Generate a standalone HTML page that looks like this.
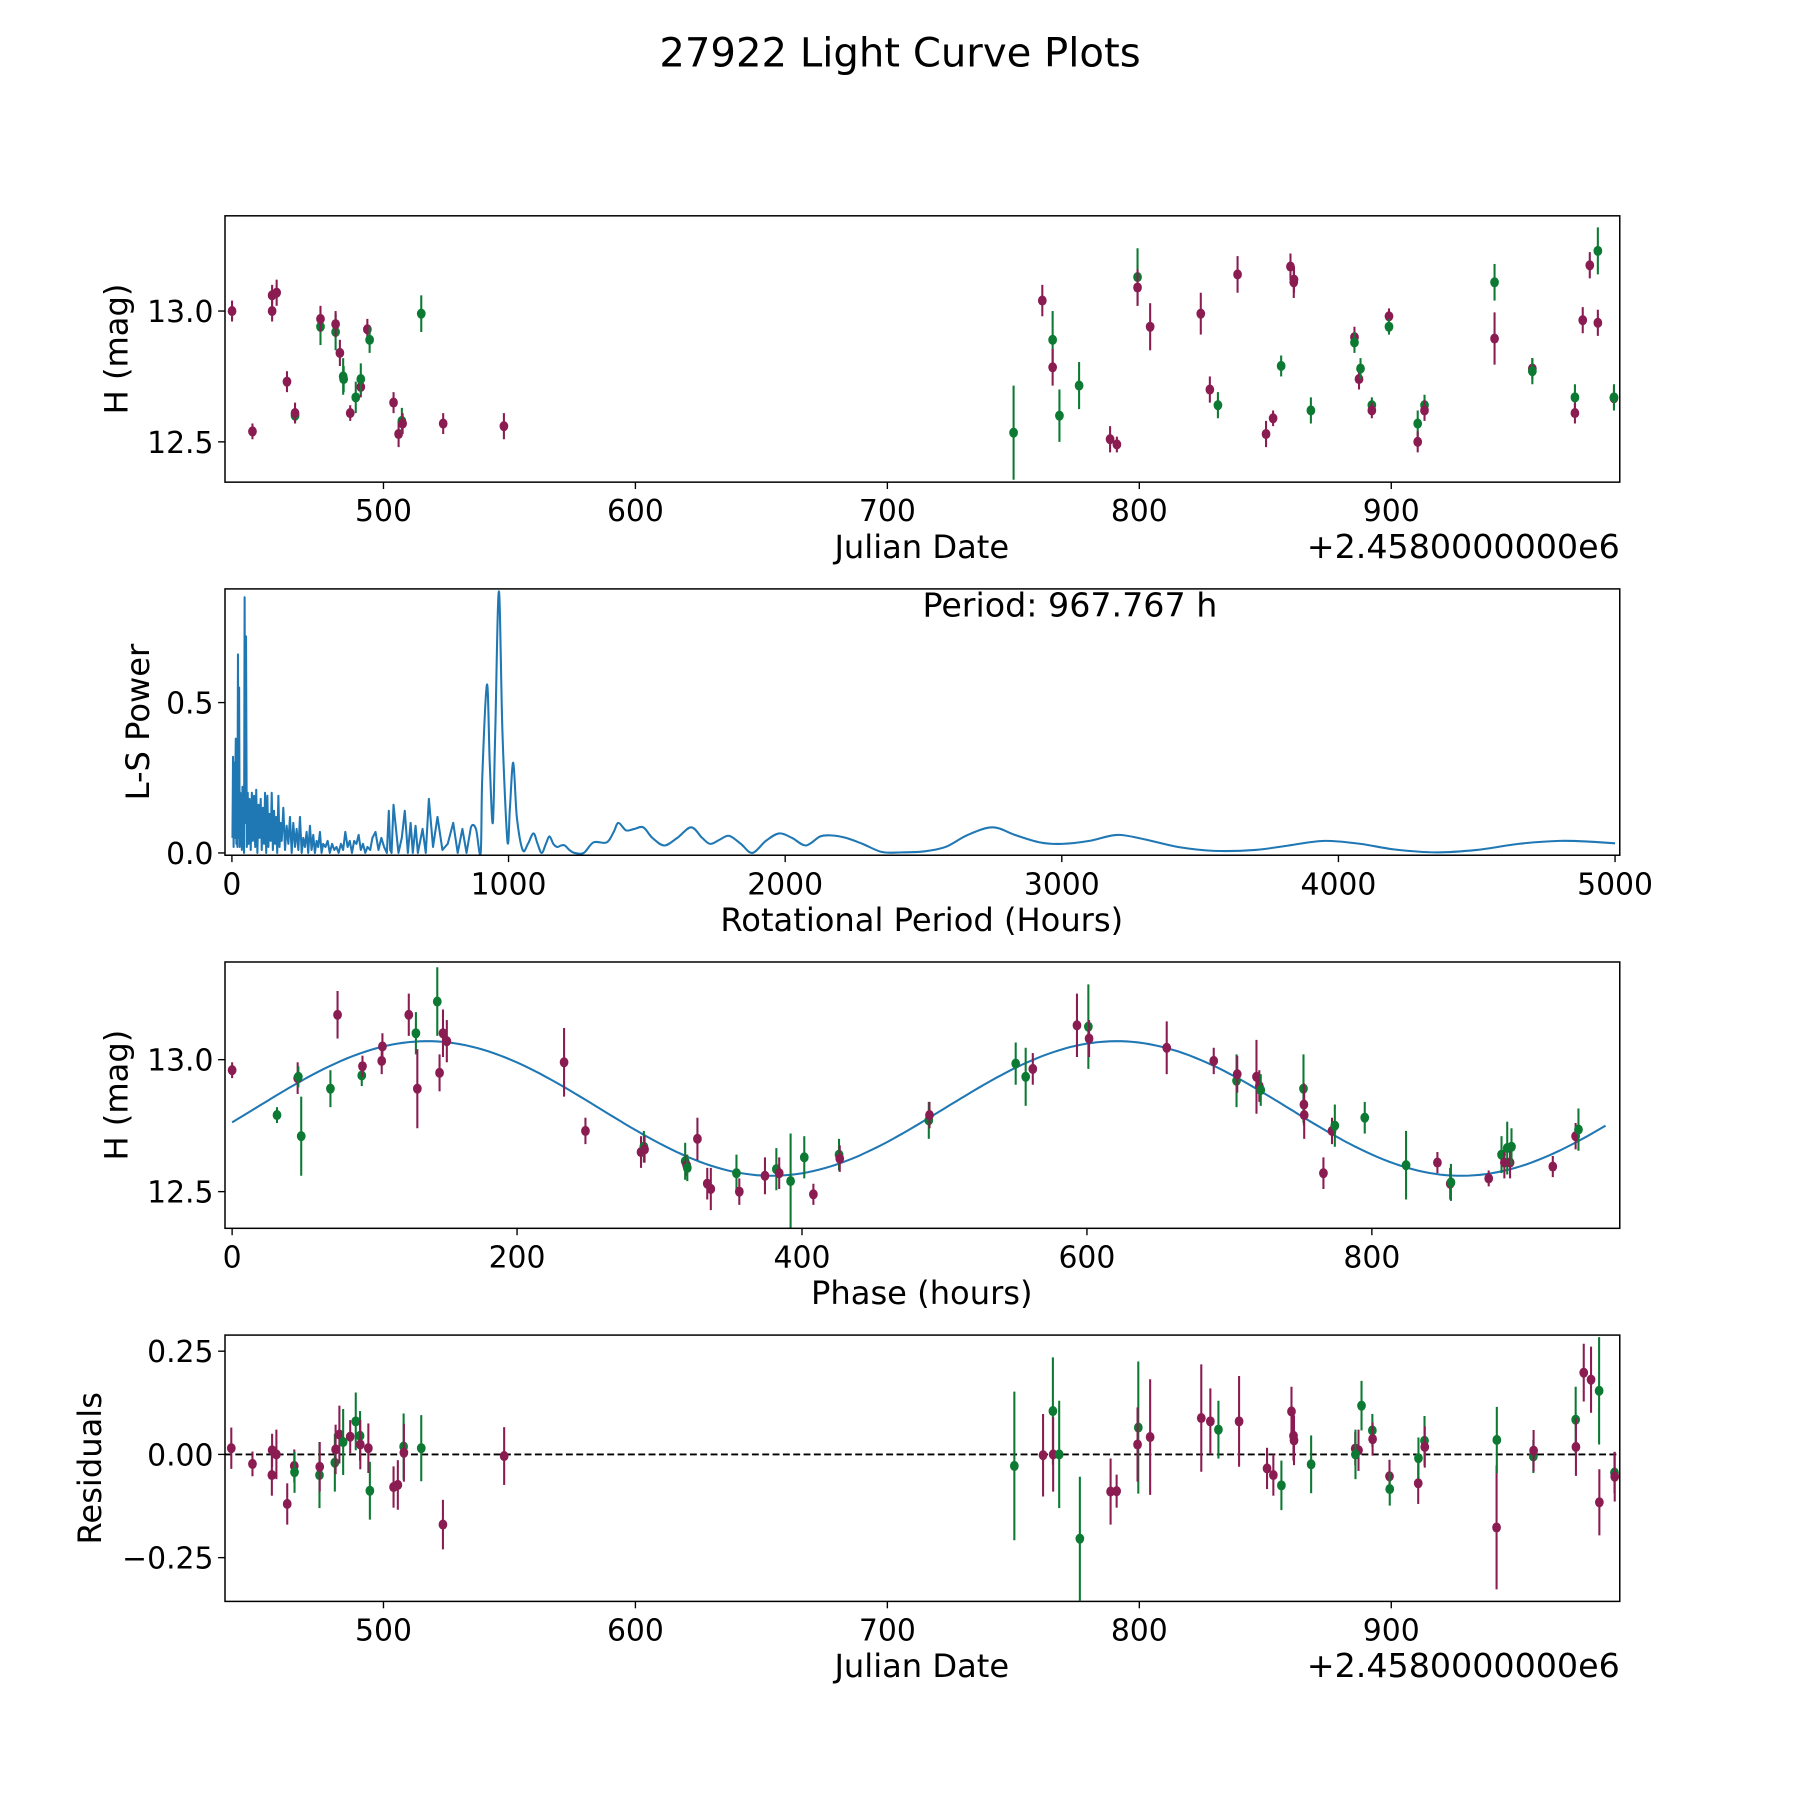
<!DOCTYPE html>
<html><head><meta charset="utf-8"><style>
html,body{margin:0;padding:0;background:#fff;}
svg{display:block;font-family:"DejaVu Sans","Liberation Sans",sans-serif;}
</style></head><body>
<svg id="fig" width="1800" height="1800" viewBox="0 0 1568 1568" xmlns="http://www.w3.org/2000/svg">
<text x="784" y="58" font-size="35" text-anchor="middle">27922 Light Curve Plots</text>
</svg>
<script>
// ---------- Panel 1: light curve ----------
const jd1 = [439.9,448,455.8,455.8,457.6,461.7,464.9,464.9,475,475,481,481,482.7,484,484.2,486.8,489,491,491,493.6,494.5,504,506,507.3,507.6,515,523.7,547.8,
750.1,761.5,765.6,765.6,768.3,776.1,788.4,791.1,799.3,799.3,804.3,824.4,828,831.2,839,850.3,853.1,856.3,860,861.3,861.4,868.1,885.4,885.4,887.2,887.8,892.3,892.3,899.1,899.1,910.5,910.5,913.2,913.2,941,941,956,956,972.9,972.9,976,978.8,982,982,988.4,988.4];
const h1 = [13.0,12.54,13.0,13.06,13.07,12.73,12.60,12.61,12.94,12.97,12.92,12.95,12.84,12.75,12.74,12.61,12.67,12.71,12.74,12.93,12.89,12.65,12.53,12.58,12.57,12.99,12.57,12.56,
12.535,13.04,12.89,12.785,12.60,12.715,12.51,12.49,13.13,13.09,12.94,12.99,12.70,12.64,13.14,12.53,12.59,12.79,13.17,13.11,13.12,12.62,12.9,12.88,12.74,12.78,12.64,12.62,12.98,12.94,12.57,12.50,12.64,12.62,13.11,12.895,12.78,12.77,12.67,12.61,12.965,13.175,13.23,12.955,12.667,12.67];
const e1 = [0.04,0.03,0.04,0.04,0.05,0.04,0.03,0.04,0.07,0.05,0.07,0.05,0.05,0.07,0.05,0.03,0.06,0.04,0.06,0.04,0.05,0.04,0.05,0.05,0.04,0.07,0.04,0.05,
0.18,0.06,0.11,0.07,0.1,0.09,0.05,0.03,0.11,0.07,0.09,0.08,0.05,0.05,0.07,0.05,0.03,0.04,0.05,0.06,0.05,0.05,0.04,0.04,0.04,0.04,0.03,0.03,0.03,0.03,0.05,0.04,0.04,0.04,0.07,0.1,0.04,0.05,0.05,0.04,0.05,0.05,0.09,0.05,0.04,0.05];
const c1 = ["m","m","m","m","m","m","g","m","g","m","g","m","m","g","g","m","g","m","g","m","g","m","m","g","m","g","m","m",
"g","m","g","m","g","g","m","m","g","m","m","m","m","g","m","m","m","g","m","m","m","g","m","g","m","g","g","m","m","g","g","m","g","m","g","m","m","g","g","m","m","m","g","m","m","g"];

// ---------- Panel 2: Lomb-Scargle periodogram ----------
const lsPeriod = [2,4,6,8,10,12,14,16,18,20,
22,24,26,28,30,32,34,36,38,40,
42,44,46,48,51,54,57,60,64,68,
72,76,80,84,88,92,96,100,104,108,
112,116,120,124,128,132,136,140,144,148,
152,156,160,164,168,172,176,180,186,192,
198,204,210,216,222,228,234,240,246,252,
258,264,270,276,282,288,294,300,306,312,
318,324,330,338,346,354,362,370,378,386,
394,402,410,418,426,434,442,450,458,466,
474,482,490,500,508,519,530,540,550,560,
567,572,577,584,602,614,625,636,646,654,
664,672,689,701,712,727,743,761,780,800,
816,833,848,864,882,899,905,922,932,943,
952,965,978,996,1005,1017,1030,1051,1070,1090,
1105,1120,1135,1148,1162,1176,1190,1203,1220,1238,
1272,1307,1355,1380,1397,1425,1455,1487,1520,1563,
1610,1660,1700,1729,1765,1798,1840,1881,1930,1978,
2025,2075,2127,2170,2220,2280,2350,2420,2500,2580,
2660,2750,2830,2920,3000,3100,3200,3300,3420,3550,
3700,3820,3950,4080,4200,4350,4500,4650,4800,4920,
5000];
const lsPower = [0.05,0.32,0.02,0.30,0.05,0.22,0.38,0.03,0.25,0.02,
0.66,0.05,0.55,0.02,0.20,0.04,0.18,0.01,0.22,0.03,
0.15,0.0,0.85,0.1,0.72,0.02,0.2,0.03,0.18,0.01,
0.2,0.04,0.19,0.02,0.21,0.0,0.16,0.05,0.18,0.01,
0.15,0.03,0.2,0.0,0.19,0.02,0.13,0.04,0.2,0.01,
0.14,0.03,0.12,0.0,0.19,0.02,0.1,0.04,0.15,0.01,
0.09,0.03,0.12,0.0,0.1,0.02,0.08,0.01,0.12,0.0,
0.05,0.02,0.07,0.0,0.09,0.01,0.06,0.0,0.04,0.02,
0.07,0.0,0.03,0.02,0.04,0.0,0.03,0.01,0.02,0.0,
0.03,0.01,0.07,0.02,0.04,0.0,0.04,0.03,0.06,0.01,
0.03,0.0,0.02,0.01,0.05,0.07,0.01,0.05,0.02,0.0,
0.14,0.01,0.0,0.16,0.0,0.05,0.14,0.0,0.1,0.0,
0.09,0.0,0.08,0.0,0.18,0.02,0.12,0.01,0.03,0.1,
0.0,0.08,0.0,0.085,0.08,0.0,0.25,0.56,0.3,0.1,
0.4,0.87,0.4,0.04,0.15,0.3,0.12,0.01,0.03,0.065,
0.03,0.0,0.03,0.055,0.03,0.02,0.025,0.025,0.01,0.0,
0.0,0.035,0.035,0.07,0.1,0.075,0.08,0.085,0.05,0.025,
0.05,0.085,0.05,0.03,0.045,0.057,0.03,0.0,0.04,0.065,
0.05,0.025,0.055,0.058,0.05,0.03,0.003,0.002,0.005,0.02,
0.06,0.085,0.06,0.035,0.03,0.04,0.06,0.045,0.02,0.007,
0.01,0.025,0.04,0.03,0.012,0.002,0.01,0.03,0.04,0.037,
0.032];

// ---------- Panel 3: phased curve ----------
const ph3 = [0,31.5,46,46.5,48.5,69,74,91,91.5,105,105.5,124,129,130,144,145.6,148,150.7,233,248,287,289,289.5,318,319,319.5,326.6,333.5,336,354,356,374,382,384,392,401.6,408,426,426.5,489,489.5,550,557,562,593,601,601.5,656,689,705,705.5,719,721,722,752,752.3,752.5,766,772,774,795,824,846,855,855.5,882,891,893,895,897,898,927,943,945];
const h3 = [12.96,12.79,12.93,12.935,12.71,12.89,13.17,12.94,12.975,12.995,13.05,13.17,13.10,12.89,13.22,12.95,13.1,13.07,12.99,12.73,12.65,12.67,12.66,12.615,12.60,12.59,12.70,12.53,12.51,12.57,12.50,12.56,12.585,12.57,12.54,12.63,12.49,12.64,12.625,12.77,12.79,12.985,12.935,12.965,13.13,13.125,13.08,13.045,12.995,12.92,12.945,12.935,12.90,12.885,12.89,12.83,12.79,12.57,12.73,12.75,12.78,12.60,12.61,12.53,12.535,12.55,12.64,12.61,12.665,12.61,12.67,12.595,12.71,12.735];
const e3 = [0.03,0.03,0.06,0.04,0.15,0.07,0.09,0.04,0.04,0.05,0.05,0.08,0.08,0.15,0.13,0.07,0.09,0.08,0.13,0.05,0.06,0.06,0.05,0.07,0.04,0.05,0.08,0.06,0.08,0.07,0.05,0.07,0.08,0.06,0.18,0.08,0.04,0.06,0.05,0.07,0.05,0.08,0.11,0.06,0.12,0.16,0.07,0.1,0.05,0.1,0.07,0.14,0.06,0.06,0.13,0.08,0.09,0.06,0.05,0.08,0.06,0.13,0.04,0.06,0.07,0.03,0.07,0.06,0.1,0.06,0.07,0.04,0.05,0.08];
const c3 = ["m","g","m","g","g","g","m","g","m","m","m","m","g","m","g","m","m","m","m","m","m","g","m","g","m","g","m","m","m","g","m","m","g","m","g","g","m","g","m","g","m","g","g","m","m","g","m","m","m","g","m","m","m","g","g","m","m","m","m","g","g","g","m","m","g","m","g","m","g","m","g","m","m","g"];
const fitMean = 12.815, fitAmp = 0.255, fitPeak = 137, fitHalfPeriod = 483.9;

// ---------- Panel 4: residuals ----------
const jd4 = [439.6,448,455.7,455.8,457.5,461.8,464.6,464.7,474.6,474.7,480.7,481,482.5,484,486.8,489,490.7,490.8,494,494.6,504,505.7,508,508.1,515,523.6,547.9,
750.4,761.8,765.7,765.8,768.2,776.4,788.6,791,799.6,799.3,804.3,824.6,828.2,831.4,839.6,850.7,853.2,856.4,860.4,861.2,861.4,868.2,885.7,887,885.8,888.2,892.5,892.6,899.3,899.4,910.7,910.8,913.2,913.3,941.8,941.9,956.4,956.5,973.2,973.3,976.4,979.3,982.5,982.6,988.6,988.7];
const r4 = [0.015,-0.023,-0.05,0.01,0.0,-0.12,-0.028,-0.043,-0.05,-0.03,-0.02,0.012,0.048,0.03,0.043,0.08,0.045,0.024,0.015,-0.088,-0.079,-0.074,0.019,0.004,0.015,-0.17,-0.004,
-0.028,-0.002,0.105,0.0,0.0,-0.204,-0.09,-0.089,0.065,0.024,0.042,0.088,0.08,0.06,0.08,-0.034,-0.05,-0.075,0.104,0.045,0.034,-0.024,0.014,0.01,0.0,0.118,0.058,0.037,-0.053,-0.084,-0.07,-0.009,0.033,0.018,-0.177,0.035,-0.005,0.009,0.084,0.018,0.198,0.181,0.154,-0.116,-0.044,-0.054];
const e4 = [0.05,0.03,0.05,0.04,0.06,0.05,0.04,0.05,0.08,0.06,0.07,0.06,0.07,0.08,0.04,0.07,0.06,0.06,0.06,0.07,0.05,0.06,0.08,0.07,0.08,0.06,0.07,
0.18,0.1,0.13,0.09,0.13,0.15,0.08,0.04,0.16,0.09,0.14,0.13,0.08,0.07,0.11,0.05,0.05,0.06,0.06,0.06,0.06,0.07,0.04,0.05,0.06,0.06,0.04,0.04,0.04,0.04,0.05,0.05,0.06,0.05,0.15,0.08,0.04,0.05,0.08,0.07,0.07,0.08,0.13,0.08,0.05,0.06];
const c4 = ["m","m","m","m","m","m","m","g","g","m","g","m","m","g","m","g","g","m","m","g","m","m","g","m","g","m","m",
"g","m","g","m","g","g","m","m","g","m","m","m","m","g","m","m","m","g","m","m","m","g","m","m","g","g","g","m","m","g","m","g","g","m","m","g","g","m","g","m","m","m","g","m","g","m"];

const MAG="#8a1c52", GRN="#0c7a32", BLUE="#1f77b4";
const svg=document.getElementById('fig');
const NS="http://www.w3.org/2000/svg";
function el(tag,attrs,parent){const e=document.createElementNS(NS,tag);for(const k in attrs)e.setAttribute(k,attrs[k]);(parent||svg).appendChild(e);return e;}

function makeAxes(name,x0,x1,y0,y1,dmin,dmax,vmin,vmax){
  const g=el('g',{});
  
  
  const sx=d=>x0+(d-dmin)/(dmax-dmin)*(x1-x0);
  const sy=v=>y1-(v-vmin)/(vmax-vmin)*(y1-y0);
  const clipId=name+'-clip';
  const cp=el('clipPath',{id:clipId},g);
  el('rect',{x:x0,y:y0,width:x1-x0,height:y1-y0},cp);
  const plot=el('g',{'clip-path':'url(#'+clipId+')'},g);
  return {g,plot,sx,sy,x0,x1,y0,y1};
}
function frame(ax){
  const r=el('rect',{x:ax.x0,y:ax.y0,width:ax.x1-ax.x0,height:ax.y1-ax.y0,fill:'none',stroke:'#000','stroke-width':1.3},ax.g);
  
  
}
function xticks(ax,vals,labels,nm){
  vals.forEach((v,i)=>{const x=ax.sx(v);
    el('line',{x1:x,x2:x,y1:ax.y1,y2:ax.y1+6,stroke:'#000','stroke-width':1.2},ax.g);
    const t=el('text',{x:x,y:ax.y1+34,'font-size':26,'text-anchor':'middle'},ax.g);
    
    
    t.textContent=labels[i];});
}
function yticks(ax,vals,labels,nm){
  vals.forEach((v,i)=>{const y=ax.sy(v);
    el('line',{x1:ax.x0-6,x2:ax.x0,y1:y,y2:y,stroke:'#000','stroke-width':1.2},ax.g);
    const t=el('text',{x:ax.x0-10,y:y+9.5,'font-size':26,'text-anchor':'end'},ax.g);
    
    
    t.textContent=labels[i];});
}
function label(txt,x,y,rot,nm,fs){
  const t=el('text',{x:x,y:y,'font-size':fs||28,'text-anchor':'middle',transform:rot?`rotate(-90 ${x} ${y})`:''});
  
  
  t.textContent=txt;
}
function errPoints(ax,xs,ys,es,cs,nm){
  xs.forEach((d,i)=>{const x=ax.sx(d),col=cs[i]==='g'?GRN:MAG;
    const ln=el('line',{x1:x,x2:x,y1:ax.sy(ys[i]-es[i]),y2:ax.sy(ys[i]+es[i]),stroke:col,'stroke-width':1.8},ax.plot);
    
    
    const c=el('ellipse',{cx:x,cy:ax.sy(ys[i]),rx:3.8,ry:4.4,fill:col},ax.plot);
    
    
  });
}
const jdTicks=[500,600,700,800,900], jdLabels=['500','600','700','800','900'];

// Panel 1
const a1=makeAxes('light-curve-panel',196,1411,188,420,437.1,990.7,12.346,13.364);
errPoints(a1,jd1,h1,e1,c1,'light-curve');
frame(a1);xticks(a1,jdTicks,jdLabels,'jd');yticks(a1,[12.5,13.0],['12.5','13.0'],'mag');
label('H (mag)',111,304,true,'y-axis-title-mag');
label('Julian Date',803,486,false,'x-axis-title-julian-date');
let off=el('text',{x:1411,y:486,'font-size':29,'text-anchor':'end'});off.textContent='+2.4580000000e6';



// Panel 2
const a2=makeAxes('periodogram-panel',196,1411,513,745,-25,5017,-0.0076,0.878);
const P=lsPeriod.map(p=>a2.sx(p)), V=lsPower.map(v=>a2.sy(v));
let d='M'+P[0].toFixed(1)+','+V[0].toFixed(1);
for(let i=1;i<P.length;i++){
  if(lsPeriod[i]<880||i<2||i>P.length-2){d+=' L'+P[i].toFixed(1)+','+V[i].toFixed(1);}
  else{
    const c1x=P[i-1]+(P[i]-P[i-2])/6, c1y=V[i-1]+(V[i]-V[i-2])/6;
    const c2x=P[i]-(P[i+1]-P[i-1])/6, c2y=V[i]-(V[i+1]-V[i-1])/6;
    d+=' C'+c1x.toFixed(1)+','+c1y.toFixed(1)+' '+c2x.toFixed(1)+','+c2y.toFixed(1)+' '+P[i].toFixed(1)+','+V[i].toFixed(1);
  }
}
const pl=el('path',{d:d,fill:'none',stroke:BLUE,'stroke-width':1.8,'stroke-linejoin':'round'},a2.plot);


frame(a2);xticks(a2,[0,1000,2000,3000,4000,5000],['0','1000','2000','3000','4000','5000'],'period');
yticks(a2,[0,0.5],['0.0','0.5'],'power');
label('L-S Power',130,629,true,'y-axis-title-ls-power');
label('Rotational Period (Hours)',803,811,false,'x-axis-title-rotational-period');
let pt=el('text',{x:932,y:537,'font-size':29,'text-anchor':'middle'});pt.textContent='Period: 967.767 h';



// Panel 3
const a3=makeAxes('phase-panel',196,1411,838,1070,-5,974,12.361,13.37);
const fx=[];for(let p=0;p<=967.767;p+=4)fx.push(p);
const fpts=fx.map(p=>a3.sx(p).toFixed(1)+','+a3.sy(fitMean+fitAmp*Math.cos(2*Math.PI*(p-fitPeak)/fitHalfPeriod)).toFixed(1)).join(' ');
const fl=el('polyline',{points:fpts,fill:'none',stroke:BLUE,'stroke-width':1.8},a3.plot);


errPoints(a3,ph3,h3,e3,c3,'phased');
frame(a3);xticks(a3,[0,200,400,600,800],['0','200','400','600','800'],'phase');
yticks(a3,[12.5,13.0],['12.5','13.0'],'mag');
label('H (mag)',111,954,true,'y-axis-title-mag-phase');
label('Phase (hours)',803,1136,false,'x-axis-title-phase');

// Panel 4
const a4=makeAxes('residuals-panel',196,1411,1163,1395,437.1,990.7,-0.356,0.289);
const zl=el('line',{x1:196,x2:1411,y1:a4.sy(0),y2:a4.sy(0),stroke:'#000','stroke-width':1.6,'stroke-dasharray':'6,3'},a4.plot);


errPoints(a4,jd4,r4,e4,c4,'residual');
frame(a4);xticks(a4,jdTicks,jdLabels,'jd-res');
yticks(a4,[-0.25,0,0.25],['\u22120.25','0.00','0.25'],'residual');
label('Residuals',88,1279,true,'y-axis-title-residuals');
label('Julian Date',803,1461,false,'x-axis-title-julian-date-res');
off=el('text',{x:1411,y:1461,'font-size':29,'text-anchor':'end'});off.textContent='+2.4580000000e6';


</script>
</body></html>
